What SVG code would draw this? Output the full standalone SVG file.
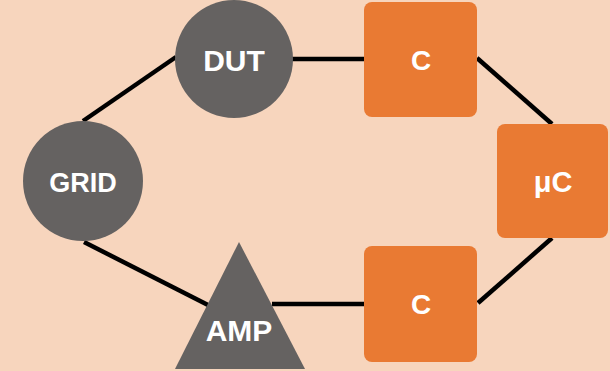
<svg xmlns="http://www.w3.org/2000/svg" width="610" height="371" viewBox="0 0 610 371">
<style>
.g{fill:#656261}
.o{fill:#E97A33}
.t{fill:#ffffff;font-family:"Liberation Sans",Arial,sans-serif;font-weight:bold;text-anchor:middle}
.l{stroke:#000000;stroke-width:4.5;fill:none;stroke-linecap:butt}
</style>
<rect width="610" height="371" fill="#F7D5BD"/>
<g id="connectors">
<line class="l" x1="83" y1="121" x2="176" y2="57"/>
<line class="l" x1="292" y1="59" x2="365" y2="59"/>
<line class="l" x1="477" y1="58" x2="552" y2="124"/>
<line class="l" x1="552" y1="238" x2="478" y2="303"/>
<line class="l" x1="272" y1="304" x2="365" y2="304"/>
<line class="l" x1="84" y1="242" x2="208" y2="305"/>
</g>
<g id="grid"><circle class="g" cx="83" cy="181" r="60"/><text class="t" x="83" y="192" font-size="27">GRID</text></g>
<g id="dut"><circle class="g" cx="234" cy="59" r="59"/><text class="t" x="234" y="71" font-size="30">DUT</text></g>
<g id="c1"><rect class="o" x="364" y="2" width="113" height="115" rx="8"/><text class="t" x="421" y="70" font-size="28">C</text></g>
<g id="uc"><rect class="o" x="497" y="124" width="111" height="114" rx="8"/><text class="t" x="553" y="192" font-size="29">μC</text></g>
<g id="c2"><rect class="o" x="364" y="246" width="113" height="116" rx="8"/><text class="t" x="421" y="314" font-size="28">C</text></g>
<g id="amp"><polygon class="g" points="239,242 175,369 305,369"/><text class="t" x="239" y="341" font-size="30">AMP</text></g>
</svg>
